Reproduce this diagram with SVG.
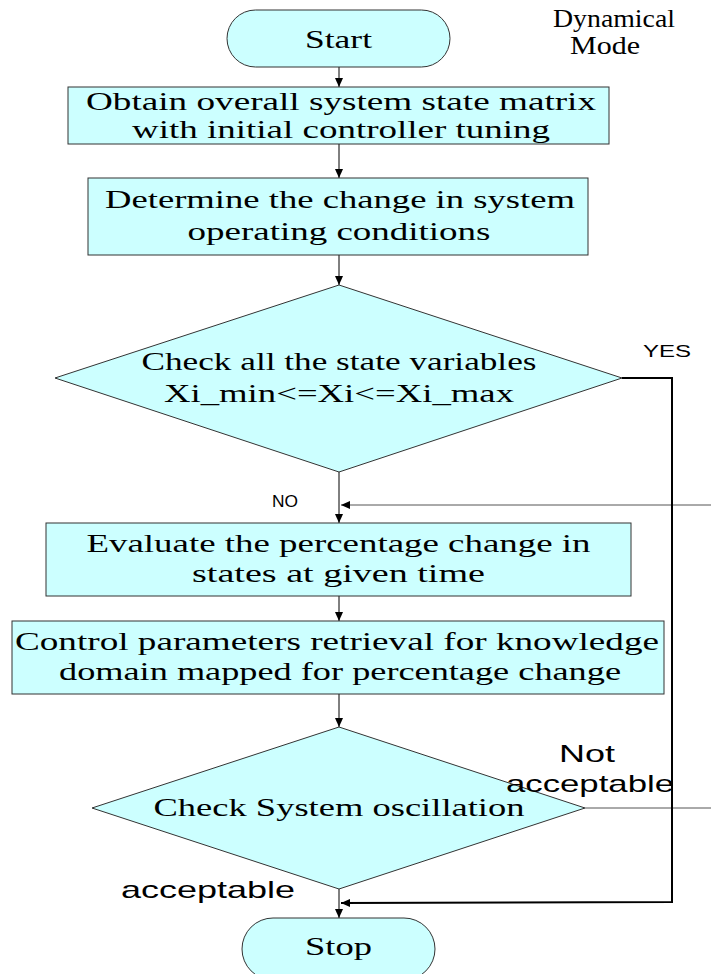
<svg xmlns="http://www.w3.org/2000/svg" width="711" height="974" viewBox="0 0 711 974">
<style>
.shape{fill:#ccffff;stroke:#333;stroke-width:1}
.t{font-family:"Liberation Serif","Times New Roman",serif;font-size:26px;fill:#000;text-anchor:middle}
.s{font-family:"Liberation Sans",Arial,sans-serif;fill:#000}
.c{fill:none;stroke:#000;stroke-width:1}
.thin{fill:none;stroke:#555;stroke-width:1}
.thick{fill:none;stroke:#000;stroke-width:2}
</style>
<defs>
<marker id="ah" markerWidth="10" markerHeight="8" refX="9" refY="4" orient="auto" markerUnits="userSpaceOnUse">
<path d="M0,0 L9,4 L0,8 Z" fill="#000"/>
</marker>
</defs>
<rect width="711" height="974" fill="#fff"/>
<g id="connectors">
<line class="c" x1="339" y1="67" x2="339" y2="87" marker-end="url(#ah)"/>
<line class="c" x1="339" y1="144" x2="339" y2="178" marker-end="url(#ah)"/>
<line class="c" x1="339" y1="255" x2="339" y2="285" marker-end="url(#ah)"/>
<line class="c" x1="339" y1="472" x2="339" y2="523" marker-end="url(#ah)"/>
<line class="thin" x1="711" y1="505" x2="341" y2="505" marker-end="url(#ah)"/>
<line class="c" x1="339" y1="596" x2="339" y2="621" marker-end="url(#ah)"/>
<line class="c" x1="339" y1="694" x2="339" y2="727" marker-end="url(#ah)"/>
<line class="thin" x1="585" y1="808" x2="711" y2="808"/>
<line class="c" x1="339" y1="889" x2="339" y2="918" marker-end="url(#ah)"/>
<polyline class="thick" points="622,378 672,378 672,902 341,903" marker-end="url(#ah)"/>
</g>
<g id="start">
<rect class="shape" x="227" y="10" width="223" height="57" rx="28.5" ry="28.5"/>
<text class="t" x="338.5" y="48" textLength="67" lengthAdjust="spacingAndGlyphs">Start</text>
</g>
<g id="mode-label">
<text class="t" x="614" y="27" font-size="24" textLength="122" lengthAdjust="spacingAndGlyphs">Dynamical</text>
<text class="t" x="605" y="54" font-size="24" textLength="70" lengthAdjust="spacingAndGlyphs">Mode</text>
</g>
<g id="box1">
<rect class="shape" x="68" y="87" width="541" height="57"/>
<text class="t" x="341" y="110" textLength="510" lengthAdjust="spacingAndGlyphs">Obtain overall system state matrix</text>
<text class="t" x="341" y="138" textLength="418" lengthAdjust="spacingAndGlyphs">with initial controller tuning</text>
</g>
<g id="box2">
<rect class="shape" x="88" y="178" width="500" height="77"/>
<text class="t" x="340" y="208" textLength="470" lengthAdjust="spacingAndGlyphs">Determine the change in system</text>
<text class="t" x="339" y="240" textLength="303" lengthAdjust="spacingAndGlyphs">operating conditions</text>
</g>
<g id="decision1">
<polygon class="shape" points="339,285 622,378 339,472 55,378"/>
<text class="t" x="339" y="370" textLength="395" lengthAdjust="spacingAndGlyphs">Check all the state variables</text>
<text class="t" x="339" y="402" textLength="350" lengthAdjust="spacingAndGlyphs">Xi_min&lt;=Xi&lt;=Xi_max</text>
</g>
<text class="s" x="643" y="357" font-size="16" textLength="48" lengthAdjust="spacingAndGlyphs">YES</text>
<text class="s" x="272" y="507" font-size="16" textLength="26" lengthAdjust="spacingAndGlyphs">NO</text>
<g id="box3">
<rect class="shape" x="46" y="523" width="585" height="73"/>
<text class="t" x="338.5" y="552" textLength="504" lengthAdjust="spacingAndGlyphs">Evaluate the percentage change in</text>
<text class="t" x="338.5" y="582" textLength="293" lengthAdjust="spacingAndGlyphs">states at given time</text>
</g>
<g id="box4">
<rect class="shape" x="12" y="621" width="652" height="73"/>
<text class="t" x="337" y="650" textLength="644" lengthAdjust="spacingAndGlyphs">Control parameters retrieval for knowledge</text>
<text class="t" x="340" y="680" textLength="562" lengthAdjust="spacingAndGlyphs">domain mapped for percentage change</text>
</g>
<g id="decision2">
<polygon class="shape" points="339,727 585,808 339,889 92,808"/>
<text class="t" x="339" y="816" textLength="371" lengthAdjust="spacingAndGlyphs">Check System oscillation</text>
</g>
<text class="s" x="559" y="762" font-size="24" textLength="56" lengthAdjust="spacingAndGlyphs">Not</text>
<text class="s" x="506" y="792" font-size="24" textLength="168" lengthAdjust="spacingAndGlyphs">acceptable</text>
<text class="s" x="121" y="898" font-size="24" textLength="174" lengthAdjust="spacingAndGlyphs">acceptable</text>
<g id="stop">
<rect class="shape" x="242" y="918" width="193" height="62" rx="31" ry="31"/>
<text class="t" x="338.5" y="955" textLength="67" lengthAdjust="spacingAndGlyphs">Stop</text>
</g>
</svg>
